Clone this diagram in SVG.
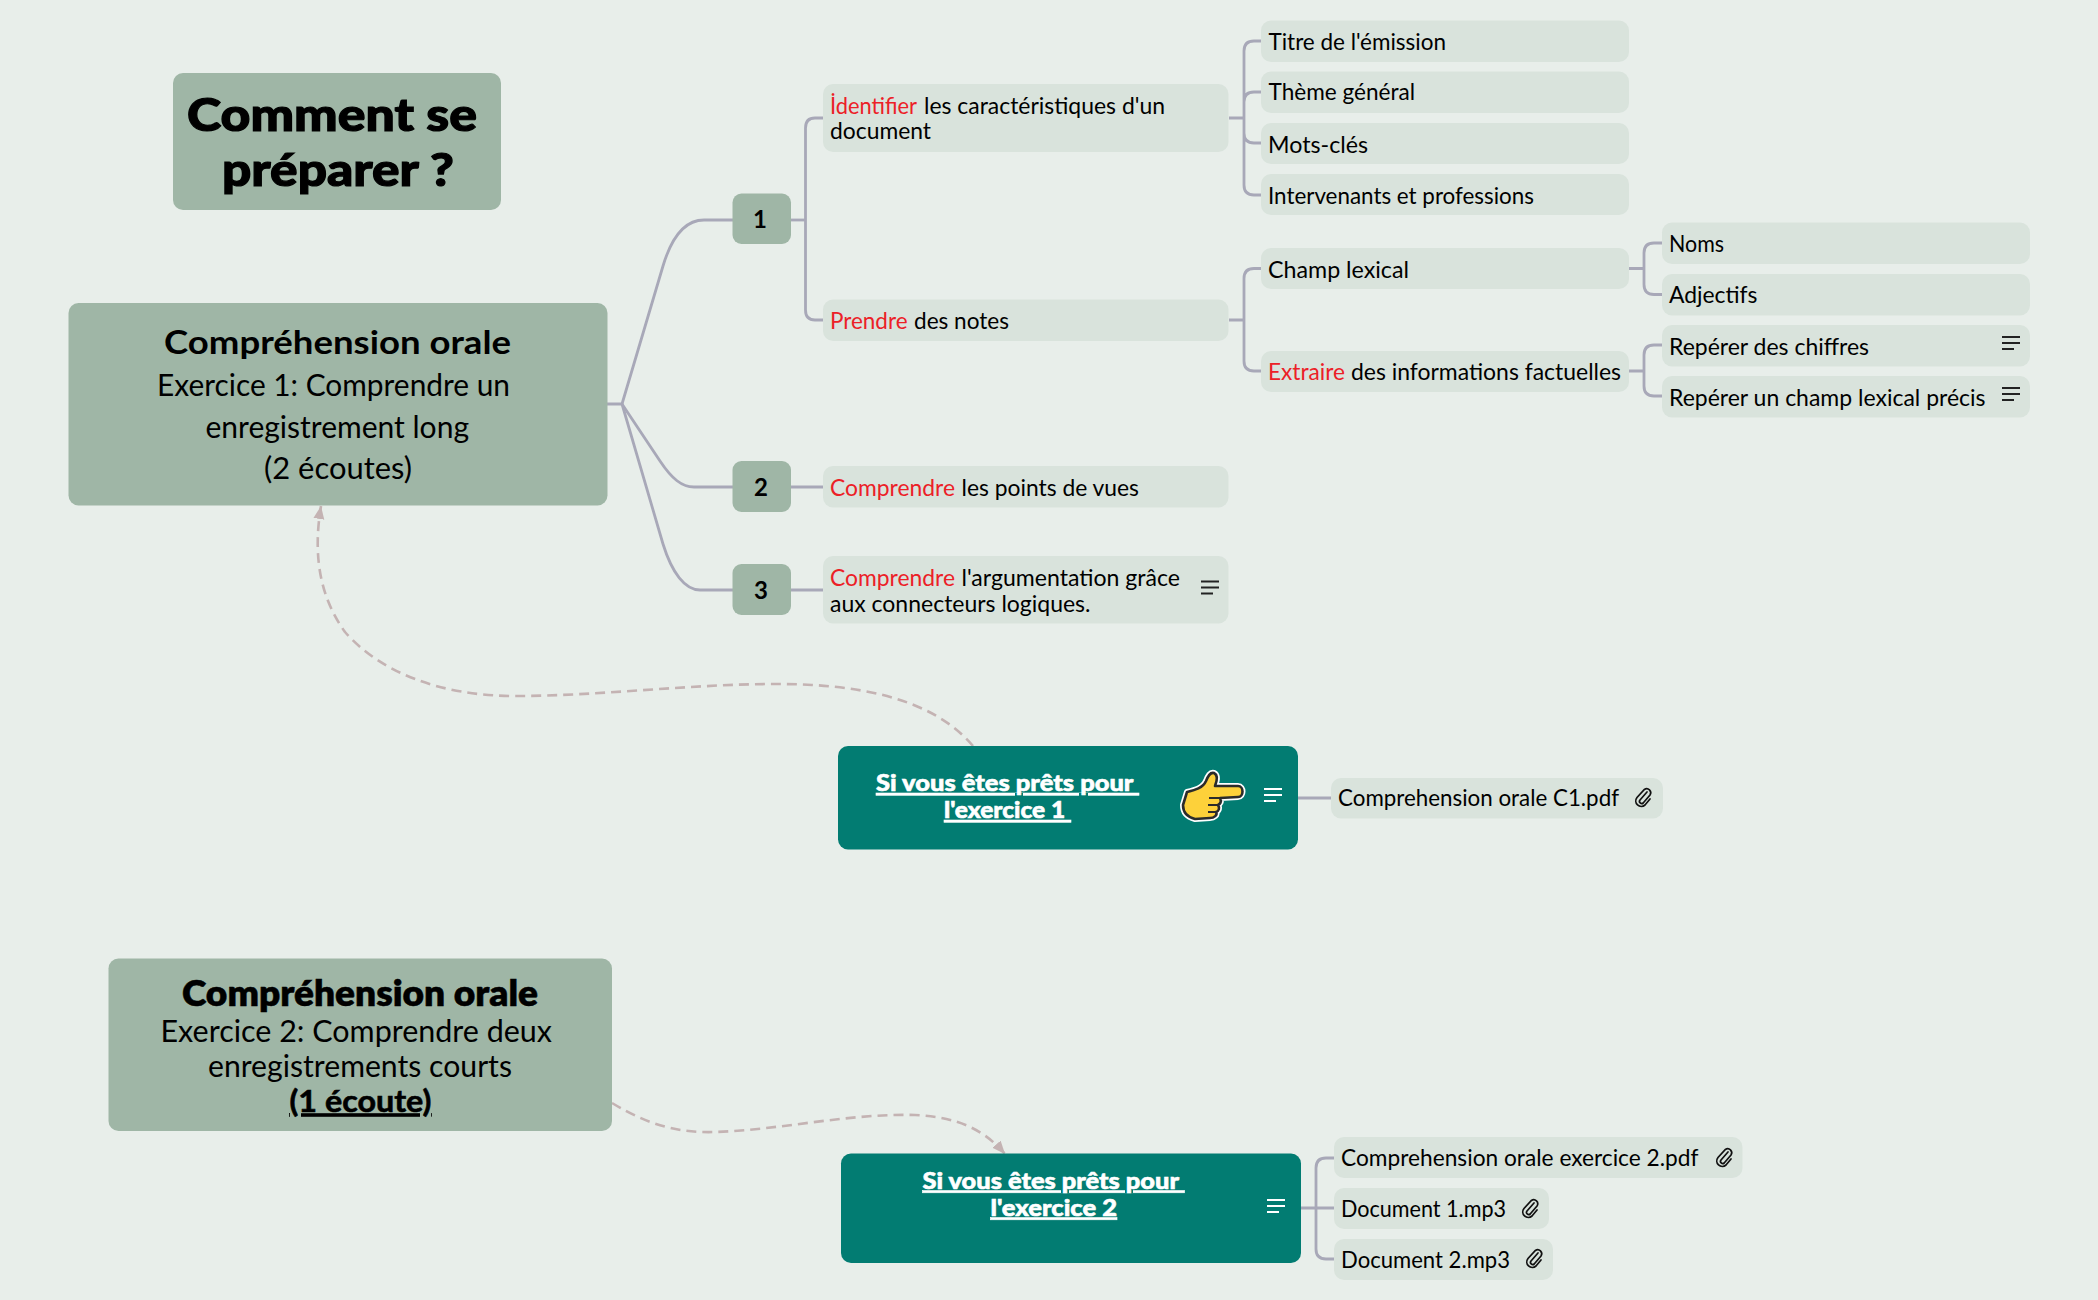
<svg xmlns="http://www.w3.org/2000/svg" width="2098" height="1300" viewBox="0 0 2098 1300">
<style>
text{font-family:"Lato","Noto Sans",sans-serif;fill:#000}
.n{fill:#9fb6a6}.l{fill:#d9e3dc}.t{fill:#027c72}
.c{fill:none;stroke:#a8a8b8;stroke-width:2.8}
.r{fill:none;stroke:#c4b3b3;stroke-width:2.6;stroke-dasharray:10 6}
.s{font-size:22.5px}.red{fill:#ec2027}
.h{font-size:33px;font-weight:700}.b{font-size:30px}
.num{font-size:24px;font-weight:700;text-anchor:middle}
.w{font-size:23px;font-weight:900;fill:#fff;stroke:#fff;stroke-width:.6;text-decoration:underline;white-space:pre}
.big{font-size:46px;font-weight:900;stroke:#000;stroke-width:1.2}
.ni{stroke:#222;stroke-width:2;fill:none}.nw{stroke:#fff;stroke-width:2.2;fill:none}
.clip{fill:none;stroke:#111;stroke-width:1.7;stroke-linecap:round}
</style>
<defs>
<marker id="a" markerWidth="14" markerHeight="12" refX="13" refY="6" orient="auto" markerUnits="userSpaceOnUse"><path d="M0,0.500L13,6L0,11.500Z" fill="#c4b3b3"/></marker>
<path id="note" d="M0,0H18M0,6H18M0,12H12"/>
<path id="pc" d="M13,4L6,12a2.2,2.2 0 0 0 3.2,3L16,7a4,4 0 0 0 -5.600,-5.500L3,9.500a5.500,5.500 0 0 0 8,7.500L16,11"/>
</defs>
<rect width="2098" height="1300" fill="#e8eeea"/>
<g id="connectors">
<path class="c" d="M607,404H622L663,266C672,236 685,220 704,220H733"/>
<path class="c" d="M622,404L660,461C672,479 682,487 694,487H733"/>
<path class="c" d="M622,404L663,544C672,573 685,590 700,590H733"/>
<path class="c" d="M791,220H805"/>
<path class="c" d="M823,118H815Q805.500,118 805.500,128V310Q805.500,320 815,320H823"/>
<path class="c" d="M791,487H823M791,590H823"/>
<path class="c" d="M1229,118H1244M1261,41H1254Q1244,41 1244,51V185Q1244,195 1254,195H1261M1261,92H1254Q1244,92 1244,102M1244,133Q1244,143 1254,143H1261"/>
<path class="c" d="M1229,320H1244M1261,268.500H1254Q1244,268.500 1244,278.500V361Q1244,371 1254,371H1261"/>
<path class="c" d="M1629,268.500H1644M1662,243H1654Q1644,243 1644,253V284.500Q1644,294.500 1654,294.500H1662"/>
<path class="c" d="M1629,371H1644M1662,345H1654Q1644,345 1644,355V386Q1644,396 1654,396H1662"/>
<path class="c" d="M1298,798H1331"/>
<path class="c" d="M1301,1208H1316M1334,1158H1326Q1316,1158 1316,1168V1249Q1316,1259 1326,1259H1334M1316,1208H1334"/>
<path class="r" marker-end="url(#a)" d="M973,746C930,695 850,684 776,684C690,684 600,696 515,696C440,696 380,672 345,632C322,600 312,560 321,506"/>
<path class="r" marker-end="url(#a)" d="M612,1103C650,1126 680,1133 715,1132C780,1130 850,1113 915,1115C960,1117 985,1131 1005,1154"/>
</g>
<g id="title"><rect class="n" x="173" y="73" width="328" height="137" rx="10"/>
<text class="big" x="187" y="130.500" textLength="290" lengthAdjust="spacingAndGlyphs">Comment se</text>
<text class="big" x="222" y="185.500" textLength="232" lengthAdjust="spacingAndGlyphs">préparer ?</text></g>
<g id="main1"><rect class="n" x="68.500" y="303" width="539" height="202.500" rx="10"/>
<text class="h" x="164" y="354" textLength="347" lengthAdjust="spacingAndGlyphs">Compréhension orale</text>
<text class="b" x="157" y="396" textLength="353" lengthAdjust="spacingAndGlyphs">Exercice 1: Comprendre un</text>
<text class="b" x="205.500" y="438" textLength="263.500" lengthAdjust="spacingAndGlyphs">enregistrement long</text>
<text class="b" x="264" y="479" textLength="148" lengthAdjust="spacingAndGlyphs">(2 écoutes)</text></g>
<g id="n1"><rect class="n" x="732.500" y="193.500" width="58.500" height="50.500" rx="9"/><text class="num" x="760" y="228">1</text></g>
<g id="n2"><rect class="n" x="732.500" y="461" width="58.500" height="51" rx="9"/><text class="num" x="761" y="496">2</text></g>
<g id="n3"><rect class="n" x="732.500" y="564" width="58.500" height="51" rx="9"/><text class="num" x="761" y="599">3</text></g>
<g id="identifier"><rect class="l" x="823" y="84" width="405.500" height="68" rx="10"/>
<text class="s" y="113.500"><tspan class="red" x="830" textLength="87" lengthAdjust="spacingAndGlyphs">İdentifier</tspan><tspan x="924" textLength="241" lengthAdjust="spacingAndGlyphs">les caractéristiques d'un</tspan></text>
<text class="s" x="830" y="139" textLength="101" lengthAdjust="spacingAndGlyphs">document</text></g>
<g id="prendre"><rect class="l" x="823" y="299.500" width="405.500" height="41.500" rx="10"/>
<text class="s" y="328.500"><tspan class="red" x="830" textLength="77.500" lengthAdjust="spacingAndGlyphs">Prendre</tspan><tspan x="914" textLength="95" lengthAdjust="spacingAndGlyphs">des notes</tspan></text></g>
<g id="points"><rect class="l" x="823" y="466" width="405.500" height="41.500" rx="10"/>
<text class="s" y="495.500"><tspan class="red" x="830" textLength="125" lengthAdjust="spacingAndGlyphs">Comprendre</tspan><tspan x="961.500" textLength="177.500" lengthAdjust="spacingAndGlyphs">les points de vues</tspan></text></g>
<g id="argumentation"><rect class="l" x="823" y="556" width="405.500" height="67.500" rx="10"/>
<text class="s" y="585.500"><tspan class="red" x="830" textLength="125" lengthAdjust="spacingAndGlyphs">Comprendre</tspan><tspan x="961.500" textLength="218.500" lengthAdjust="spacingAndGlyphs">l'argumentation grâce</tspan></text>
<text class="s" x="830" y="612" textLength="260.500" lengthAdjust="spacingAndGlyphs">aux connecteurs logiques.</text>
<use href="#note" class="ni" x="1201" y="581.500"/></g>
<g id="titre"><rect class="l" x="1261" y="20.500" width="368" height="41.500" rx="10"/><text class="s" x="1268.500" y="49.500" textLength="177.500" lengthAdjust="spacingAndGlyphs">Titre de l'émission</text></g>
<g id="theme"><rect class="l" x="1261" y="71.500" width="368" height="41.500" rx="10"/><text class="s" x="1268.500" y="100" textLength="146.500" lengthAdjust="spacingAndGlyphs">Thème général</text></g>
<g id="mots"><rect class="l" x="1261" y="123" width="368" height="41" rx="10"/><text class="s" x="1268" y="152.500" textLength="100" lengthAdjust="spacingAndGlyphs">Mots-clés</text></g>
<g id="intervenants"><rect class="l" x="1261" y="174" width="368" height="41" rx="10"/><text class="s" x="1268" y="204" textLength="266" lengthAdjust="spacingAndGlyphs">Intervenants et professions</text></g>
<g id="champ"><rect class="l" x="1261" y="248" width="368" height="41" rx="10"/><text class="s" x="1268" y="277.500" textLength="141" lengthAdjust="spacingAndGlyphs">Champ lexical</text></g>
<g id="extraire"><rect class="l" x="1261" y="351" width="368" height="41" rx="10"/>
<text class="s" y="380"><tspan class="red" x="1268" textLength="77" lengthAdjust="spacingAndGlyphs">Extraire</tspan><tspan x="1351" textLength="270" lengthAdjust="spacingAndGlyphs">des informations factuelles</tspan></text></g>
<g id="noms"><rect class="l" x="1662" y="222.500" width="368" height="41.500" rx="10"/><text class="s" x="1669" y="251.500" textLength="55" lengthAdjust="spacingAndGlyphs">Noms</text></g>
<g id="adjectifs"><rect class="l" x="1662" y="274" width="368" height="41.500" rx="10"/><text class="s" x="1669" y="303" textLength="88.500" lengthAdjust="spacingAndGlyphs">Adjectifs</text></g>
<g id="chiffres"><rect class="l" x="1662" y="325" width="368" height="41.500" rx="10"/><text class="s" x="1669" y="354.500" textLength="200" lengthAdjust="spacingAndGlyphs">Repérer des chiffres</text><use href="#note" class="ni" x="2002" y="337"/></g>
<g id="precis"><rect class="l" x="1662" y="376" width="368" height="41.500" rx="10"/><text class="s" x="1669" y="405.500" textLength="316.500" lengthAdjust="spacingAndGlyphs">Repérer un champ lexical précis</text><use href="#note" class="ni" x="2002" y="388"/></g>
<g id="teal1"><rect class="t" x="838" y="746" width="460" height="103.500" rx="10"/>
<text class="w" x="876" y="791" textLength="263" lengthAdjust="spacingAndGlyphs">Si vous êtes prêts pour </text>
<text class="w" x="944" y="818" textLength="127" lengthAdjust="spacingAndGlyphs">l'exercice 1 </text>
<path fill="none" stroke="#fff" stroke-width="6" stroke-linejoin="round" d="M1187,792C1195,790 1203,788 1206,781C1208,776 1210,772 1214,773C1218,775 1217,781 1215,786L1238,786C1244,786 1244,797 1238,797L1220,798C1222,802 1220,804 1218,805C1220,808 1219,811 1216,812C1218,815 1214,818 1210,818L1195,819C1187,817 1183,812 1183,805Z"/>
<path fill="#fdd13a" stroke="#2b2b2b" stroke-width="2.600" stroke-linejoin="round" d="M1187,792C1195,790 1203,788 1206,781C1208,776 1210,772 1214,773C1218,775 1217,781 1215,786L1238,786C1244,786 1244,797 1238,797L1220,798C1222,802 1220,804 1218,805C1220,808 1219,811 1216,812C1218,815 1214,818 1210,818L1195,819C1187,817 1183,812 1183,805Z"/>
<path fill="none" stroke="#2b2b2b" stroke-width="2.200" d="M1209,798H1220M1208,805H1218M1208,812H1216"/>
<use href="#note" class="nw" x="1264" y="789"/></g>
<g id="c1pdf"><rect class="l" x="1331" y="778" width="332" height="40.500" rx="10"/><text class="s" x="1338" y="806" textLength="281" lengthAdjust="spacingAndGlyphs">Comprehension orale C1.pdf</text><use href="#pc" class="clip" x="1634" y="788"/></g>
<g id="main2"><rect class="n" x="108.500" y="958.500" width="503.500" height="172.500" rx="10"/>
<text class="h" x="182" y="1005.500" textLength="356" lengthAdjust="spacingAndGlyphs" style="font-size:36px;font-weight:800;stroke:#000;stroke-width:.5">Compréhension orale</text>
<text class="b" x="160.500" y="1041.500" textLength="391.500" lengthAdjust="spacingAndGlyphs">Exercice 2: Comprendre deux</text>
<text class="b" x="208" y="1076.500" textLength="304" lengthAdjust="spacingAndGlyphs">enregistrements courts</text>
<text class="b" x="289.500" y="1111.500" textLength="142" lengthAdjust="spacingAndGlyphs" style="font-weight:700;stroke:#000;stroke-width:.6;text-decoration:underline">(1 écoute)</text></g>
<g id="teal2"><rect class="t" x="841" y="1153.500" width="460" height="109.500" rx="10"/>
<text class="w" x="922.500" y="1188.500" textLength="262" lengthAdjust="spacingAndGlyphs">Si vous êtes prêts pour </text>
<text class="w" x="990.500" y="1215.500" textLength="126.500" lengthAdjust="spacingAndGlyphs">l'exercice 2</text>
<use href="#note" class="nw" x="1267" y="1200"/></g>
<g id="ex2pdf"><rect class="l" x="1334" y="1137" width="408.500" height="41" rx="10"/><text class="s" x="1341" y="1165.500" textLength="357.500" lengthAdjust="spacingAndGlyphs">Comprehension orale exercice 2.pdf</text><use href="#pc" class="clip" x="1715" y="1148"/></g>
<g id="doc1"><rect class="l" x="1334" y="1188" width="215" height="41" rx="10"/><text class="s" x="1341" y="1217" textLength="165" lengthAdjust="spacingAndGlyphs">Document 1.mp3</text><use href="#pc" class="clip" x="1521" y="1199"/></g>
<g id="doc2"><rect class="l" x="1334" y="1239" width="219" height="41" rx="10"/><text class="s" x="1341" y="1268" textLength="169" lengthAdjust="spacingAndGlyphs">Document 2.mp3</text><use href="#pc" class="clip" x="1525" y="1249"/></g>
</svg>
